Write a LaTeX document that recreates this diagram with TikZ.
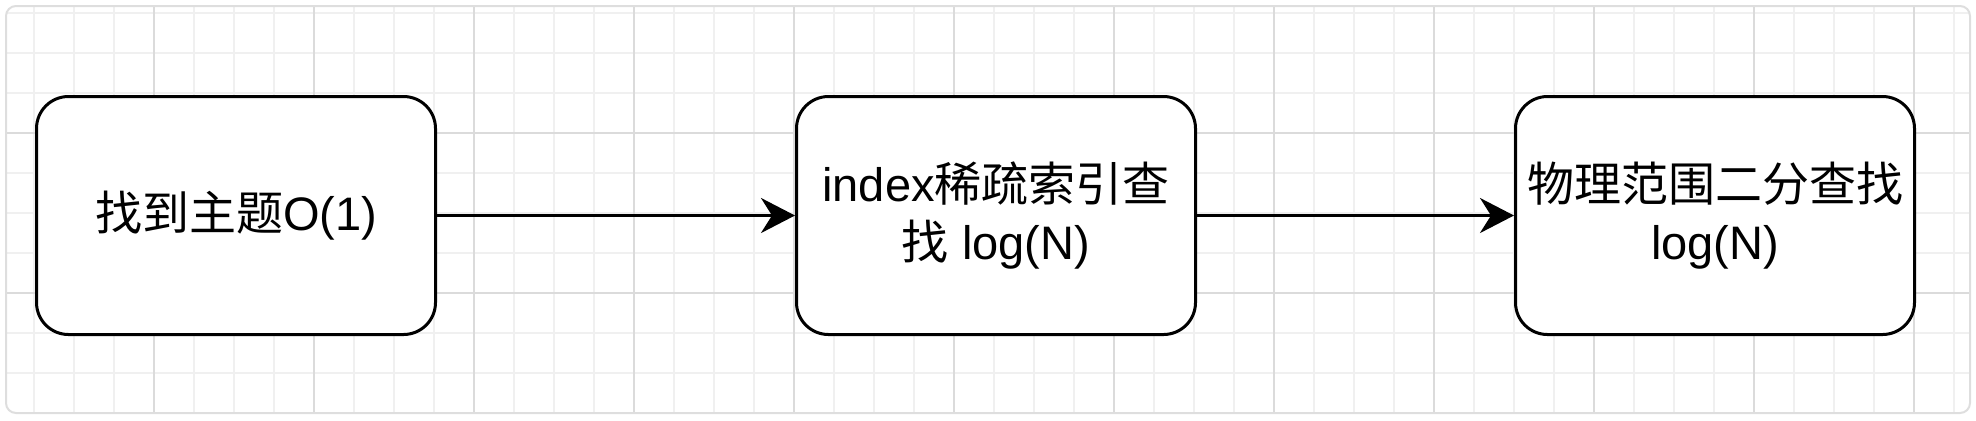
\documentclass[tikz,border=0pt]{standalone}
\usepackage{fontspec}
\setmainfont{Liberation Sans}
\newfontfamily\cjk{Noto Sans CJK SC}
\usetikzlibrary{arrows.meta,positioning}
\newcommand{\zh}[1]{{\cjk #1}}

\begin{document}
\begin{tikzpicture}[
    x=0.5pt, y=-0.5pt,
    stage/.style={rectangle, rounded corners=16pt, draw, line width=1.5pt, fill=white, minimum width=199.5pt, minimum height=119pt, align=center, inner sep=0pt, font=\fontsize{23.5pt}{29pt}\selectfont},
    arrow/.style={-{Stealth[length=17pt, width=17.5pt, inset=5.5pt]}, line width=1.5pt},
    minor/.style={black!6, line width=1pt},
    major/.style={black!14, line width=1pt}
]
\useasboundingbox (0,0) rectangle (1976,420);

% background grid
\begin{scope}
\clip[rounded corners=5pt] (6,6) rectangle (1970,413);
\foreach \k in {0,...,48} \draw[minor] (34+40*\k,0) -- (34+40*\k,420);
\foreach \k in {0,...,10} \draw[minor] (0,13+40*\k) -- (1976,13+40*\k);
\foreach \k in {0,...,11} \draw[major] (154+160*\k,0) -- (154+160*\k,420);
\foreach \k in {0,1} \draw[major] (0,133+160*\k) -- (1976,133+160*\k);
\end{scope}
\draw[black!13, line width=1pt, rounded corners=5pt] (6,6) rectangle (1970,413);

\node[stage] (topic) at (236,215.5) {\zh{找到主题}O(1)};
\node[stage, right=179pt of topic] (sparse) {index\zh{稀疏索引查}\\\zh{找} log(N)};
\node[stage, right=158.5pt of sparse] (binary) {\zh{物理范围二分查找}\\log(N)};

\draw[arrow] (topic) -- (sparse);
\draw[arrow] (sparse) -- (binary);

\end{tikzpicture}
\end{document}
